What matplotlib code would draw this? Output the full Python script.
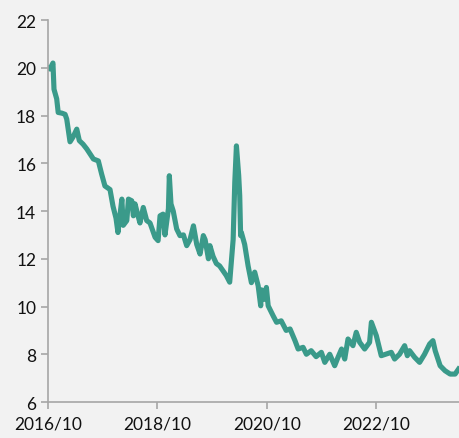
import numpy as np
import pandas as pd
import matplotlib
matplotlib.use("Agg")
import matplotlib.pyplot as plt
import matplotlib.dates as mdates

# days after 2016-10-01 and value
days = [0, 13, 33, 40, 58, 68, 93, 114, 125, 147, 167, 192, 209, 234, 259,
        280, 303, 336, 358, 380, 414, 434, 454, 467, 493, 502, 526, 537, 559,
        570, 581, 601, 614, 636, 659, 681, 715, 735, 748, 768, 781, 804, 810,
        821, 836, 859, 881, 904, 926, 948, 971, 993, 1015, 1037, 1049, 1071,
        1081, 1102, 1124, 1146, 1168, 1190, 1213, 1236, 1247, 1258, 1273, 1280,
        1286, 1291, 1313, 1325, 1336, 1358, 1380, 1403, 1420, 1425, 1447,
        1458, 1470, 1504, 1526, 1557, 1590, 1616, 1649, 1670, 1703, 1725,
        1757, 1790, 1825, 1848, 1881, 1914, 1936, 1960, 1981, 2003, 2036,
        2058, 2081, 2114, 2147, 2159, 2192, 2225, 2292, 2314, 2347, 2381,
        2399, 2414, 2448, 2481, 2514, 2548, 2570]
values = [20.0, 19.95, 20.2, 19.1, 18.7, 18.13, 18.1, 18.05, 17.85, 16.9,
          17.1, 17.43, 16.95, 16.8, 16.6, 16.4, 16.18, 16.1, 15.55, 15.05,
          14.9, 14.2, 13.7, 13.1, 14.5, 13.4, 13.6, 14.5, 14.43, 13.8, 14.3,
          13.8, 13.5, 14.15, 13.6, 13.5, 12.9, 12.76, 13.8, 13.87, 13.0, 14.1,
          15.48, 14.3, 14.0, 13.25, 12.97, 13.0, 12.55, 12.8, 13.38, 12.6,
          12.2, 12.97, 12.8, 12.0, 12.55, 12.1, 11.8, 11.7, 11.5, 11.3, 11.02,
          12.8, 15.2, 16.73, 15.5, 14.64, 12.97, 13.1, 12.6, 12.13, 11.7,
          11.0, 11.44, 10.87, 10.03, 10.7, 10.3, 10.8, 10.03, 9.6, 9.34, 9.4,
          9.0, 9.06, 8.57, 8.22, 8.29, 8.0, 8.15, 7.9, 8.08, 7.66, 8.0, 7.52,
          7.87, 8.22, 7.8, 8.64, 8.36, 8.92, 8.5, 8.22, 8.5, 9.34, 8.78, 7.94,
          8.08, 7.8, 8.0, 8.36, 7.94, 8.15, 7.87, 7.66, 8.0, 8.43, 8.57]
tail_days = [2585, 2618, 2651, 2685, 2718, 2741]
tail_values = [8.15, 7.52, 7.31, 7.17, 7.17, 7.38]
days = days[:len(values)] + tail_days
values = values + tail_values

start = pd.Timestamp("2016-10-01")
dates = [start + pd.Timedelta(days=d) for d in days]
tick_labels = ["2016/10", "2018/10", "2020/10", "2022/10"]
tick_dates = [pd.Timestamp("2016-10-01"), pd.Timestamp("2018-10-01"),
              pd.Timestamp("2020-10-01"), pd.Timestamp("2022-10-01")]

plt.rcParams['font.family'] = ['Lato', 'DejaVu Sans']
bg = '#f2f2f2'
fig = plt.figure(figsize=(4.59, 4.39), dpi=100, facecolor=bg)
ax = fig.add_axes([0.1046, 0.082, 0.8954, 0.870], facecolor=bg)

ax.plot(dates, values, color='#3a9a8a', linewidth=3.7, solid_joinstyle='round')

ax.set_ylim(6, 22)
ax.set_yticks(range(6, 23, 2))
ax.set_xlim(start, start + pd.Timedelta(days=2744))
ax.set_xticks(tick_dates)
ax.set_xticklabels(tick_labels)

for s in ['top', 'right']:
    ax.spines[s].set_visible(False)
for s in ['left', 'bottom']:
    ax.spines[s].set_color('#a6a6a6')
    ax.spines[s].set_linewidth(1.2)
ax.tick_params(axis='both', colors='#a6a6a6', length=5, width=1.2,
               labelcolor='#111111', labelsize=12.5)
ax.tick_params(axis='x', pad=5)

fig.savefig('out.png', dpi=100, facecolor=bg)
